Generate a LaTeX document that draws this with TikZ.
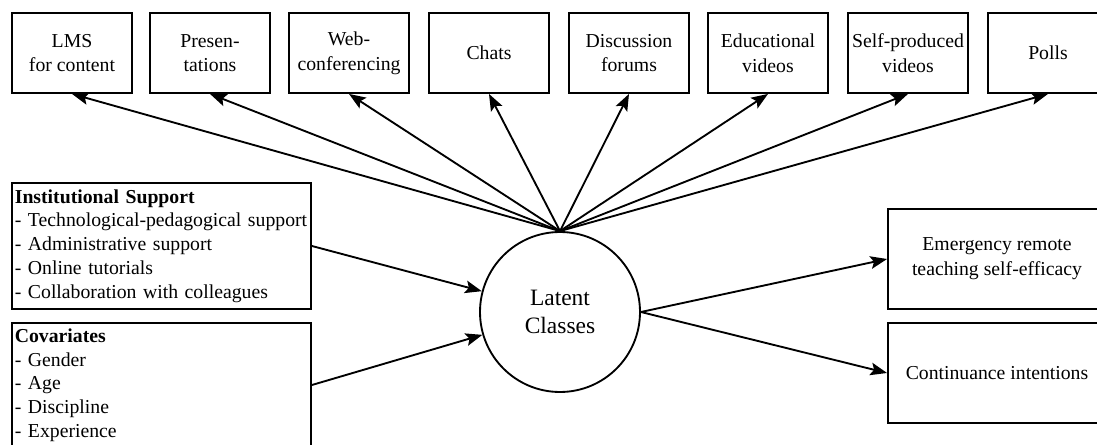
\documentclass[tikz,border=0pt]{standalone}
\usepackage{fontspec}
\setmainfont{Liberation Serif}
\usetikzlibrary{arrows.meta}
\begin{document}
\begin{tikzpicture}[x=0.75pt,y=-0.75pt,
  every node/.style={font=\fontsize{14.8}{18.5}\selectfont},
  topbox/.style={draw,line width=1.4pt,minimum width=90pt,minimum height=60pt,align=center,inner sep=1pt},
  listbox/.style={draw,line width=1.4pt,minimum width=224.25pt,text width=220pt,align=left,inner xsep=2pt,inner ysep=1pt,font=\fontsize{14.8}{17.8}\selectfont},
  outbox/.style={draw,line width=1.4pt,minimum width=163.5pt,minimum height=75pt,align=center},
  latent/.style={draw,circle,line width=1.4pt,minimum size=120pt,align=center,font=\fontsize{17.6}{20.5}\selectfont},
  arr/.style={line width=1.4pt,-{Stealth[length=12.5pt,width=9.5pt,inset=2.5pt]}}]
\useasboundingbox (0,0) rectangle (1097,445);
\clip (0,0) rectangle (1097,445);
\node[topbox] (b1) at (72,53) {LMS\\for content};
\node[topbox] (b2) at (210,53) {Presen-\\tations};
\node[topbox] (b3) at (349,53) {Web-\\conferencing};
\node[topbox] (b4) at (489,53) {Chats};
\node[topbox] (b5) at (629,53) {Discussion\\forums};
\node[topbox] (b6) at (768,53) {Educational\\videos};
\node[topbox] (b7) at (908,53) {Self-produced\\videos};
\node[topbox] (b8) at (1048,53) {Polls};
\node[latent] (lc) at (560,312) {Latent\\Classes};
\node[listbox,minimum height=94.5pt] (inst) at (161.5,246) {\textbf{Institutional Support}\\- Technological-pedagogical support\\- Administrative support\\- Online tutorials\\- Collaboration with colleagues};
\node[listbox,minimum height=93pt] (cov) at (161.5,385) {\textbf{Covariates}\\- Gender\\- Age\\- Discipline\\- Experience};
\node[outbox] (emer) at (997,259) {Emergency remote\\teaching self-efficacy};
\node[outbox] (cont) at (997,373) {Continuance intentions};
\foreach \b in {b1,b2,b3,b4,b5,b6,b7,b8}
  \draw[arr] (lc.north) -- (\b.south);
\draw[arr] (inst.east) -- (lc);
\draw[arr] (cov.east) -- (lc);
\draw[arr] (lc.east) -- (emer.west);
\draw[arr] (lc.east) -- (cont.west);
\end{tikzpicture}
\end{document}
